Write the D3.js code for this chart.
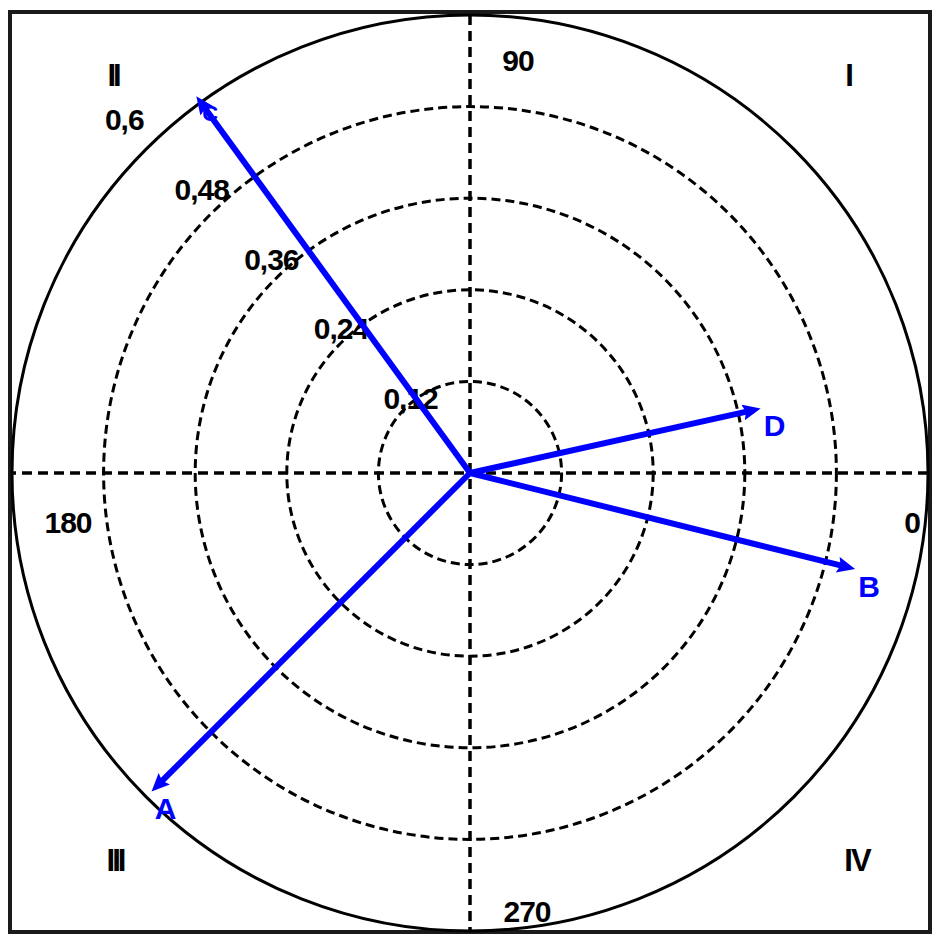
<!DOCTYPE html>
<html>
<head>
<meta charset="utf-8">
<script src="https://cdn.jsdelivr.net/npm/d3@7"></script>
<style>
  body { margin: 0; background: #fff; }
  text { font-family: 'Liberation Sans', Arial, sans-serif; font-weight: bold; }
</style>
</head>
<body>
<div class="vis-container"></div>
<script>
// vectors
const vectorNames = ['A', 'B', 'C', 'D'];
const vectorValues = [0.59, 0.52, 0.61, 0.39];
const vectorAngles = [225, 346, 126, 12.5];

// rings and labels
const ringTicks = [0.12, 0.24, 0.36, 0.48, 0.6];
const ringLabels = ['0,12', '0,24', '0,36', '0,48', '0,6'];
const angleTicks = [0, 90, 180, 270];
const angleLabels = ['0', '90', '180', '270'];
const quadrantLabels = ['I', 'II', 'III', 'IV'];

const width = 945;
const height = 950;
const cx = 470;
const cy = 473;

const svg = d3
  .select('.vis-container')
  .append('svg')
  .attr('width', width)
  .attr('height', height);

svg.append('rect').attr('width', width).attr('height', height).attr('fill', 'white');

// frame
svg
  .append('rect')
  .attr('x', 10)
  .attr('y', 12)
  .attr('width', 920)
  .attr('height', 920)
  .attr('fill', 'none')
  .attr('stroke', '#1a1a1a')
  .attr('stroke-width', 4);

const rScale = d3.scaleLinear().domain([0, 0.6]).range([0, 458]);
const aScale = d3.scaleLinear().domain([0, 360]).range([0, 2 * Math.PI]);

const polar = (v, deg) => [
  cx + rScale(v) * Math.cos(aScale(deg)),
  cy - rScale(v) * Math.sin(aScale(deg))
];

const group = svg.append('g');

// rings
group
  .selectAll('circle.ring')
  .data(ringTicks)
  .join('circle')
  .attr('class', 'ring')
  .attr('cx', cx)
  .attr('cy', cy)
  .attr('r', (d) => rScale(d))
  .attr('fill', 'none')
  .attr('stroke', 'black')
  .attr('stroke-width', 3)
  .attr('stroke-dasharray', (d, i) => (i === ringTicks.length - 1 ? null : '9,5'));

// cross axes
const rMax = d3.max(ringTicks);
group
  .selectAll('line.axis')
  .data([0, 90])
  .join('line')
  .attr('class', 'axis')
  .attr('x1', (d) => polar(rMax, d)[0])
  .attr('y1', (d) => polar(rMax, d)[1])
  .attr('x2', (d) => polar(rMax, d + 180)[0])
  .attr('y2', (d) => polar(rMax, d + 180)[1])
  .attr('stroke', 'black')
  .attr('stroke-width', 3.5)
  .attr('stroke-dasharray', '10,6');

// ring labels along the upper-left diagonal
group
  .selectAll('text.ringLabel')
  .data(ringTicks)
  .join('text')
  .attr('class', 'ringLabel')
  .attr('x', (d) => cx - 17 - 0.76 * rScale(d))
  .attr('y', (d) => cy - 5 - 0.76 * rScale(d))
  .attr('dy', '0.35em')
  .attr('font-size', 30)
  .attr('letter-spacing', -1)
  .attr('fill', 'black')
  .text((d, i) => ringLabels[i]);

// angle labels
const angleOffsets = [[-16, 49], [48, 45], [56, 49], [57, -20]];
group
  .selectAll('text.angleLabel')
  .data(angleTicks)
  .join('text')
  .attr('class', 'angleLabel')
  .attr('x', (d, i) => polar(rMax, d)[0] + angleOffsets[i][0])
  .attr('y', (d, i) => polar(rMax, d)[1] + angleOffsets[i][1])
  .attr('dy', '0.35em')
  .attr('text-anchor', 'middle')
  .attr('font-size', 30)
  .attr('letter-spacing', -1)
  .attr('fill', 'black')
  .text((d, i) => angleLabels[i]);

// quadrant labels
const quadrantPos = [[378, -398], [-357, -398], [-355, 387], [387, 387]];
group
  .selectAll('text.quadrant')
  .data(quadrantLabels)
  .join('text')
  .attr('class', 'quadrant')
  .attr('x', (d, i) => cx + quadrantPos[i][0])
  .attr('y', (d, i) => cy + quadrantPos[i][1])
  .attr('dy', '0.35em')
  .attr('text-anchor', 'middle')
  .attr('font-size', 31)
  .attr('letter-spacing', (d) => (d === 'IV' ? -2 : -3))
  .attr('fill', 'black')
  .text((d) => d);

// arrow heads
svg
  .append('defs')
  .append('marker')
  .attr('id', 'head')
  .attr('markerUnits', 'userSpaceOnUse')
  .attr('markerWidth', 22)
  .attr('markerHeight', 18)
  .attr('refX', 6)
  .attr('refY', 8)
  .attr('orient', 'auto')
  .append('path')
  .attr('d', 'M0,0 L18,8 L0,16 L3,8 Z')
  .attr('fill', '#0000ff');

const vectors = vectorNames.map((name, i) => ({
  name,
  value: vectorValues[i],
  angle: vectorAngles[i]
}));

const headLen = 12;
group
  .selectAll('line.vector')
  .data(vectors)
  .join('line')
  .attr('class', 'vector')
  .attr('x1', cx)
  .attr('y1', cy)
  .attr('x2', (d) => cx + (rScale(d.value) - headLen) * Math.cos(aScale(d.angle)))
  .attr('y2', (d) => cy - (rScale(d.value) - headLen) * Math.sin(aScale(d.angle)))
  .attr('stroke', '#0000ff')
  .attr('stroke-width', 6)
  .attr('marker-end', 'url(#head)');

group
  .selectAll('text.vectorLabel')
  .data(vectors)
  .join('text')
  .attr('class', 'vectorLabel')
  .attr('x', (d) => polar(d.value, d.angle)[0] + 14)
  .attr('y', (d) => polar(d.value, d.angle)[1] + 17)
  .attr('dy', '0.35em')
  .attr('text-anchor', 'middle')
  .attr('font-size', (d) => (d.name === 'C' ? 22 : 30))
  .attr('font-weight', (d) => (d.name === 'C' ? 'normal' : 'bold'))
  .attr('fill', '#0000ff')
  .text((d) => d.name);
</script>
</body>
</html>
